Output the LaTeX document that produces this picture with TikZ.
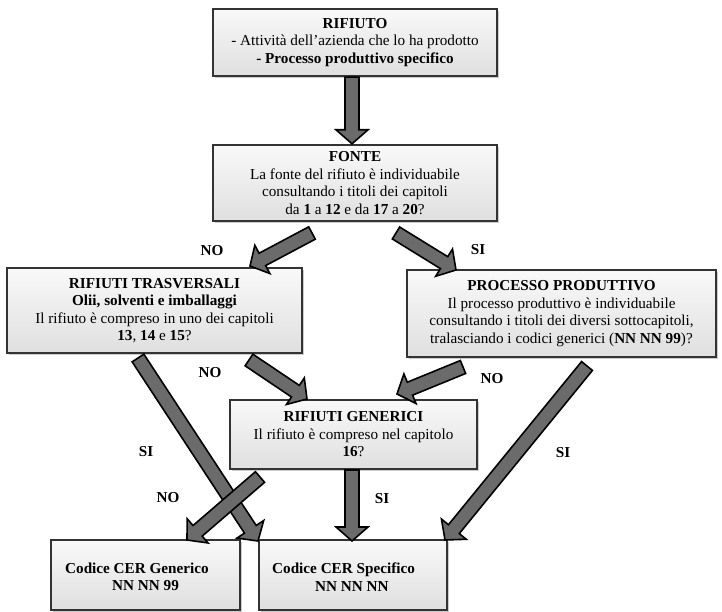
\documentclass[tikz,border=0pt]{standalone}
\usepackage{fontspec}
\setmainfont{Liberation Serif}
\usetikzlibrary{calc,shadows}
\newcommand\blockarrow[2]{%
  \coordinate (bn) at ($(#2)!14pt!(#1)$);
  \draw[barrow] ($(#1)!7pt!90:(#2)$) -- ($(bn)!7pt!90:(#2)$) -- ($(bn)!16pt!90:(#2)$) -- (#2)
    -- ($(bn)!16pt!-90:(#2)$) -- ($(bn)!7pt!-90:(#2)$) -- ($(#1)!7pt!-90:(#2)$) -- cycle;}
\begin{document}
\begin{tikzpicture}[x=1pt,y=1pt,
  box/.style={draw=black!80, line width=2.4pt, top color=gray!5, bottom color=gray!25,
    drop shadow={shadow xshift=1.8pt,shadow yshift=-1.8pt,opacity=.4},
    inner sep=0pt, align=center, font=\fontsize{15.2}{17.5}\selectfont},
  txt/.style={inner sep=0pt, align=left, anchor=west, font=\fontsize{15.2}{17.5}\selectfont\bfseries},
  lbl/.style={font=\fontsize{15.2}{17.5}\selectfont\bfseries, inner sep=0pt},
  barrow/.style={fill=black!58, draw=black, line width=1.6pt, line join=miter}]
\useasboundingbox (0,0) rectangle (722,611);
% boxes
\node[box, minimum width=284pt, minimum height=67pt] (rif) at (355,568.5)
  {\textbf{RIFIUTO}\\- Attività dell’azienda che lo ha prodotto\\\textbf{- Processo produttivo specifico}};
\node[box, minimum width=284pt, minimum height=76pt] (fon) at (355,428)
  {\textbf{FONTE}\\La fonte del rifiuto è individuabile\\consultando i titoli dei capitoli\\da \textbf{1} a \textbf{12} e da \textbf{17} a \textbf{20}?};
\node[box, minimum width=295pt, minimum height=85pt] (tra) at (154.5,300.5)
  {\textbf{RIFIUTI TRASVERSALI}\\\textbf{Olii, solventi e imballaggi}\\Il rifiuto è compreso in uno dei capitoli\\\textbf{13}, \textbf{14} e \textbf{15}?};
\node[box, minimum width=309pt, minimum height=87pt] (pro) at (561.5,297.5)
  {\textbf{PROCESSO PRODUTTIVO}\\Il processo produttivo è individuabile\\consultando i titoli dei diversi sottocapitoli,\\tralasciando i codici generici (\textbf{NN NN 99})?};
\node[box, minimum width=247pt, minimum height=69pt] (gen) at (353.5,176.5)
  {\textbf{RIFIUTI GENERICI}\\Il rifiuto è compreso nel capitolo\\\textbf{16}?};
\node[box, minimum width=189pt, minimum height=70pt] (cerg) at (145.5,36) {};
\node[box, minimum width=188pt, minimum height=70pt] (cers) at (353,36) {};
\node[txt] (cergt) at (65,34) {Codice CER Generico\\\hspace*{47pt}NN NN 99};
\node[txt] (cerst) at (272,34) {Codice CER Specifico\\\hspace*{43pt}NN NN NN};
% arrow end points
\coordinate (a1t) at ($(rif.south)+(-3,0)$);   \coordinate (a1h) at ($(fon.north)+(-3,0)$);
\coordinate (a2t) at (312,378); \coordinate (a2h) at (250,345);
\coordinate (a3t) at (396,378); \coordinate (a3h) at (456,341);
\coordinate (a4t) at (249,251); \coordinate (a4h) at (307,212);
\coordinate (a5t) at (463,244); \coordinate (a5h) at (397,217);
\coordinate (a6t) at (138,253); \coordinate (a6h) at (258,70);
\coordinate (a7t) at (260,134); \coordinate (a7h) at (187,71);
\coordinate (a8t) at (352,141); \coordinate (a8h) at (352,70);
\coordinate (a9t) at (587,245); \coordinate (a9h) at (445,71);
% arrows
\blockarrow{a1t}{a1h}
\blockarrow{a2t}{a2h}
\blockarrow{a3t}{a3h}
\blockarrow{a4t}{a4h}
\blockarrow{a5t}{a5h}
\blockarrow{a6t}{a6h}
\blockarrow{a7t}{a7h}
\blockarrow{a8t}{a8h}
\blockarrow{a9t}{a9h}
% labels
\node[lbl] (l2) at (212,360) {NO};
\node[lbl] (l3) at (478,361) {SI};
\node[lbl] (l4) at (210,238) {NO};
\node[lbl] (l5) at (492,232) {NO};
\node[lbl] (l6) at (146,159) {SI};
\node[lbl] (l7) at (168,113) {NO};
\node[lbl] (l8) at (382,112) {SI};
\node[lbl] (l9) at (563,158) {SI};
\end{tikzpicture}
\end{document}
